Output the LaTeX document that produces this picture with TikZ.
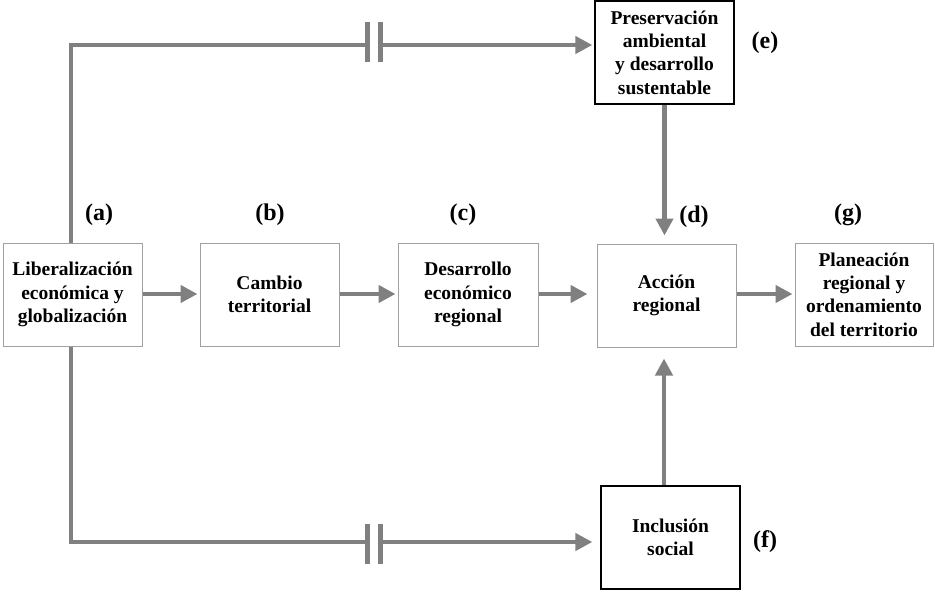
\documentclass[tikz,border=0pt]{standalone}
\usepackage{fontspec}
\setmainfont{Liberation Serif}
\usetikzlibrary{arrows.meta}
\definecolor{lgray}{HTML}{808080}
\definecolor{bgray}{HTML}{A0A0A0}
\tikzset{
  gbox/.style={draw=bgray, line width=1pt, minimum width=139pt, minimum height=103pt, align=center, inner sep=0pt, font=\fontsize{19.5}{23.3}\selectfont\bfseries},
  kbox/.style={gbox, draw=black, line width=1.3pt},
  lab/.style={font=\fontsize{24}{28}\selectfont\bfseries, inner sep=0pt},
  conn/.style={draw=lgray, line width=4.5pt},
  arr/.style={conn, -{Triangle[length=17pt, width=17pt]}},
  bar/.style={draw=lgray, line width=5pt}
}
\begin{document}
\begin{tikzpicture}[x=1pt,y=-1pt]
\useasboundingbox (0,0) rectangle (935,592);
\node[gbox] (a) at (72.5,294.5) {Liberalización\\económica y\\globalización};
\node[gbox] (b) at (269.5,294.5) {Cambio\\territorial};
\node[gbox, minimum width=140pt] (c) at (468,294.5) {Desarrollo\\económico\\regional};
\node[gbox] (d) at (666.5,295.5) {Acción\\regional};
\node[gbox, minimum width=138pt] (g) at (864,294.5) {Planeación\\regional y\\ordenamiento\\del territorio};
\node[kbox] (e) at (664.5,52.5) {Preservación\\ambiental\\y desarrollo\\sustentable};
\node[kbox] (f) at (670.5,537.5) {Inclusión\\social};

\node[lab] (la) at (99,215) {(a)};
\node[lab] (lb) at (270,215) {(b)};
\node[lab] (lc) at (463,215) {(c)};
\node[lab] (ld) at (694,217) {(d)};
\node[lab] (lg) at (848,215) {(g)};
\node[lab] (le) at (765,43) {(e)};
\node[lab] (lf) at (765,542) {(f)};

% main chain
\draw[arr, shorten >=2pt] (a.east |- 0,294) -- (b.west |- 0,294);
\draw[arr, shorten >=2pt] (b.east |- 0,294) -- (c.west |- 0,294);
\draw[arr, shorten >=9pt] (c.east |- 0,294) -- (d.west |- 0,294);
\draw[arr, shorten >=2pt] (d.east |- 0,294) -- (g.west |- 0,294);

% vertical arrows into d
\draw[arr, shorten >=8pt] (e.south) -- (e.south |- d.north);
\coordinate (fx) at (664,0);
\draw[arr, shorten >=11pt] (f.north -| fx) -- (d.south -| fx);

% top branch
\coordinate (tc) at (71,45);
\coordinate (tb1) at (367.5,45);
\coordinate (tb2) at (380.5,45);
\draw[conn] (a.north -| tc) -- (tc) -- ([xshift=2.5pt]tb1);
\draw[bar] ([yshift=-17pt]tb1) -- ([yshift=23pt]tb1);
\draw[bar] ([yshift=-17pt]tb2) -- ([yshift=23pt]tb2);
\draw[arr, shorten >=2pt] ([xshift=-2.5pt]tb2) -- (e.west |- tc);

% bottom branch
\coordinate (bc) at (71,542);
\coordinate (bb1) at (367.5,542);
\coordinate (bb2) at (380.5,542);
\draw[conn] (a.south -| bc) -- (bc) -- ([xshift=2.5pt]bb1);
\draw[bar] ([yshift=-22pt]bb1) -- ([yshift=18pt]bb1);
\draw[bar] ([yshift=-22pt]bb2) -- ([yshift=18pt]bb2);
\draw[arr, shorten >=8pt] ([xshift=-2.5pt]bb2) -- (f.west |- bc);
\end{tikzpicture}
\end{document}
